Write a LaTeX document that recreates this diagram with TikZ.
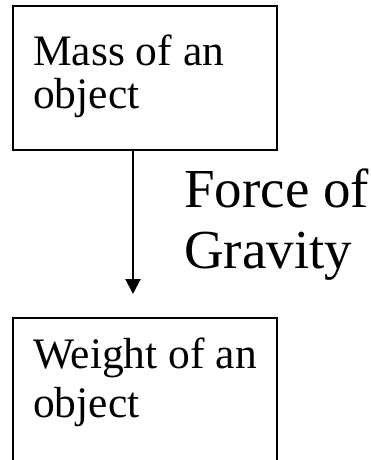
\documentclass[tikz,border=0pt]{standalone}
\usepackage{fontspec}
\setmainfont{Liberation Serif}
\usetikzlibrary{arrows.meta}
\begin{document}
\begin{tikzpicture}[x=1pt,y=-1pt,
  box/.style={draw=black,line width=2pt,rectangle,inner sep=0pt},
  boxtext/.style={anchor=base west,inner sep=0pt,font=\fontsize{43.5}{49}\selectfont},
  bigtext/.style={anchor=base west,inner sep=0pt,font=\fontsize{55}{61}\selectfont},
  conn/.style={line width=2pt,-{Triangle[length=15pt,width=15pt]}}]
\useasboundingbox (0,0) rectangle (371,460);
\clip (0,0) rectangle (371,460);
\node[box,minimum width=264pt,minimum height=144pt] (mass) at (145,78) {};
\node[box,minimum width=264pt,minimum height=152pt] (weight) at (145,394) {};
\node[boxtext] (m1) at (33,65) {Mass of an};
\node[boxtext] (m2) at (33,108) {object};
\node[boxtext] (w1) at (33,368) {Weight of an};
\node[boxtext] (w2) at (33,417) {object};
\coordinate (tip) at (133,294);
\draw[conn] (mass.south -| tip) -- (tip);
\node[bigtext] (f1) at (184,207) {Force of};
\node[bigtext] (f2) at (184,268) {Gravity};
\end{tikzpicture}
\end{document}
